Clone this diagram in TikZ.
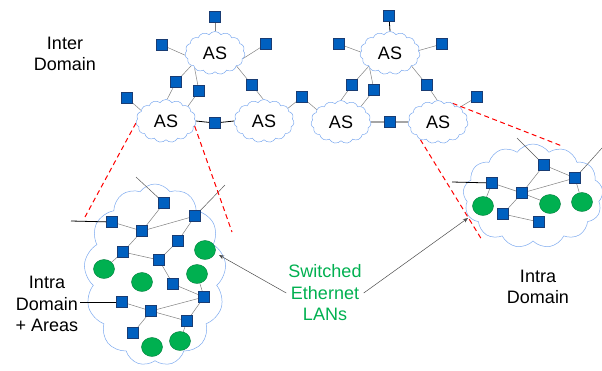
\documentclass[tikz,border=0pt]{standalone}
\usepackage{fontspec}
\setmainfont{Liberation Sans}
\usetikzlibrary{shapes.symbols,shapes.geometric,arrows.meta}
\pgfdeclarelayer{back}
\pgfdeclarelayer{links}
\pgfsetlayers{back,links,main}

\definecolor{swblue}{RGB}{0,96,192}
\definecolor{swedge}{RGB}{25,60,115}
\definecolor{cloudline}{RGB}{125,170,240}
\definecolor{langreen}{RGB}{0,176,80}
\definecolor{landark}{RGB}{0,125,60}
\definecolor{linkgray}{RGB}{130,130,130}

\tikzset{
  sw/.style={rectangle, fill=swblue, draw=swedge, line width=0.4pt,
    minimum size=11pt, inner sep=0pt},
  lan/.style={ellipse, fill=langreen, draw=landark, line width=0.4pt,
    minimum width=21pt, minimum height=19pt, inner sep=0pt},
  ascloud/.style={cloud, cloud puffs=15, cloud puff arc=110, cloud ignores aspect,
    minimum width=60pt, minimum height=43pt, draw=cloudline, fill=white,
    line width=0.5pt, inner sep=0pt, font=\fontsize{18}{21}\selectfont},
  bigcloud/.style={cloud, cloud puffs=13, cloud puff arc=110, cloud ignores aspect,
    draw=cloudline, fill=white, line width=0.5pt},
  link/.style={draw=linkgray, line width=0.5pt},
  stub/.style={draw=black!65, line width=0.5pt},
  trunk/.style={draw=black, line width=0.8pt},
  zoomline/.style={draw=red, dash pattern=on 5pt off 3.5pt, line width=1pt},
  txt/.style={align=center, font=\fontsize{18}{21.5}\selectfont},
  pointer/.style={draw=black!70, line width=0.5pt, -{Stealth[length=5pt,width=4pt]}},
}

\begin{document}
\begin{tikzpicture}[x=1pt,y=-1pt]
\useasboundingbox (0,0) rectangle (602,370);

% ---------- autonomous systems ----------
\node[ascloud] (TL) at (215,53) {AS};
\node[ascloud] (TR) at (390,53) {AS};
\node[ascloud] (A1) at (166,121) {AS};
\node[ascloud] (A2) at (264,121) {AS};
\node[ascloud] (A3) at (341,122) {AS};
\node[ascloud] (A4) at (438,122) {AS};

% border routers, left half
\node[sw] (t1) at (215,17) {};
\node[sw] (t2) at (162,45) {};
\node[sw] (t3) at (266,44) {};
\node[sw] (t4) at (176,82) {};
\node[sw] (t5) at (199,91) {};
\node[sw] (t6) at (252,85) {};
\node[sw] (t7) at (127,98) {};
\node[sw] (t8) at (215,123) {};
\node[sw] (t9) at (302,97) {};
% border routers, right half
\node[sw] (u1) at (389,16) {};
\node[sw] (u2) at (339,44) {};
\node[sw] (u3) at (442,44) {};
\node[sw] (u4) at (352,85) {};
\node[sw] (u5) at (374,90) {};
\node[sw] (u6) at (427,85) {};
\node[sw] (u7) at (390,122) {};
\node[sw] (u8) at (477,97) {};

\begin{pgfonlayer}{links}
  \draw[link] (t1) -- (TL.north);
  \draw[link] (t2) -- (TL.184);
  \draw[link] (t3) -- (TL.349);
  \draw[link] (TL.208) -- (t4) -- (A1.87);
  \draw[link] (TL.217) -- (t5) -- (A1.34);
  \draw[link] (TL.329) -- (t6) -- (A2.92);
  \draw[link] (t7) -- (A1.157);
  \draw[trunk] (A1.east) -- (t8) -- (A2.west);
  \draw[link] (A2.28) -- (t9) -- (A3.153);
  \draw[trunk] (u1) -- (TR.north);
  \draw[link] (u2) -- (TR.178);
  \draw[link] (u3) -- (TR.5);
  \draw[link] (TR.212) -- (u4) -- (A3.90);
  \draw[link] (TR.217) -- (u5) -- (A3.38);
  \draw[link] (TR.329) -- (u6) -- (A4.92);
  \draw[trunk] (A3.east) -- (u7) -- (A4.west);
  \draw[link] (u8) -- (A4.34);
\end{pgfonlayer}

% ---------- intra-domain network with areas ----------
\begin{pgfonlayer}{back}
  \node[bigcloud, minimum width=142pt, minimum height=182pt] (IL) at (155,275) {};
  \node[bigcloud, minimum width=140pt, minimum height=104pt] (IR) at (533,196) {};
\end{pgfonlayer}

\node[sw] (s1) at (164,203) {};
\node[sw] (s2) at (112,222) {};
\node[sw] (s3) at (142,231) {};
\node[sw] (s4) at (195,216) {};
\node[sw] (s5) at (178,241) {};
\node[sw] (s6) at (123,252) {};
\node[sw] (s7) at (159,260) {};
\node[sw] (s8) at (173,284) {};
\node[sw] (s9) at (204,297) {};
\node[sw] (s10) at (122,302) {};
\node[sw] (s11) at (151,311) {};
\node[sw] (s12) at (187,321) {};
\node[sw] (s13) at (133,333) {};
\node[lan] (g1) at (205,250) {};
\node[lan] (g2) at (104,269) {};
\node[lan] (g3) at (142,282) {};
\node[lan] (g4) at (197,274) {};
\node[lan] (g5) at (180,341) {};
\node[lan] (g6) at (152,347) {};
\coordinate (e1) at (136,177);
\coordinate (e2) at (225,185);
\coordinate (e3) at (71,221);
\coordinate (e4) at (80,302);

% ---------- intra-domain network ----------
\node[sw] (r1) at (544,165) {};
\node[sw] (r2) at (492,183) {};
\node[sw] (r3) at (575,178) {};
\node[sw] (r4) at (522,193) {};
\node[sw] (r5) at (503,214) {};
\node[sw] (r6) at (539,222) {};
\node[lan] (rg1) at (483,206) {};
\node[lan] (rg2) at (550,204) {};
\node[lan] (rg3) at (582,202) {};
\coordinate (f1) at (517,138);
\coordinate (f2) at (602,148);
\coordinate (f3) at (452,182);

\begin{pgfonlayer}{links}
  \draw[stub] (e1) -- (s1);
  \draw[stub] (s4) -- (e2);
  \draw[link] (s1) -- (s3);
  \draw[link] (s2) -- (s3);
  \draw[link] (s3) -- (s4);
  \draw[link] (s4) -- (s5);
  \draw[link] (s3) -- (s6);
  \draw[link] (s6) -- (s7);
  \draw[link] (s5) -- (s7);
  \draw[link] (s6) -- (g2);
  \draw[link] (s7) -- (s8);
  \draw[link] (s8) -- (s9);
  \draw[link] (g4) -- (s9);
  \draw[link] (s10) -- (s11);
  \draw[link] (s11) -- (s9);
  \draw[link] (s11) -- (s12);
  \draw[link] (s9) -- (s12);
  \draw[link] (s11) -- (s13);
  \draw[link] (s12) -- (g5);
  \draw[trunk] (e3) -- (s2);
  \draw[trunk] (e4) -- (s10);

  \draw[stub] (f1) -- (r1);
  \draw[stub] (r3) -- (f2);
  \draw[link] (r1) -- (r4);
  \draw[link] (r1) -- (r3);
  \draw[link] (r2) -- (r4);
  \draw[link] (r4) -- (r3);
  \draw[link] (r4) -- (r5);
  \draw[link] (r4) -- (rg2);
  \draw[link] (r5) -- (r6);
  \draw[link] (r3) -- (rg3);
  \draw[link] (r2) -- (rg1);
  \draw[trunk] (f3) -- (r2);

  % zoom-in markers
  \coordinate (z1) at (85,217);
  \coordinate (z2) at (232,232);
  \coordinate (z3) at (562,146);
  \coordinate (z4) at (482,240);
  \draw[zoomline] (A1.184) -- (z1);
  \draw[zoomline] (A1.-10) -- (z2);
  \draw[zoomline] (A4.52) -- (z3);
  \draw[zoomline] (A4.225) -- (z4);
\end{pgfonlayer}

% ---------- labels ----------
\node[txt] (inter) at (65,54) {Inter\\Domain};
\node[txt] (intraL) at (47,304) {Intra\\Domain\\+ Areas};
\node[txt] (intraR) at (538,287) {Intra\\Domain};
\node[txt, text=langreen, inner sep=2pt] (lans) at (325,293) {Switched\\Ethernet\\LANs};
\coordinate (p1) at (219,255);
\coordinate (p2) at (468,218);
\draw[pointer] (lans.west) -- (p1);
\draw[pointer] (lans.east) -- (p2);
\end{tikzpicture}
\end{document}
